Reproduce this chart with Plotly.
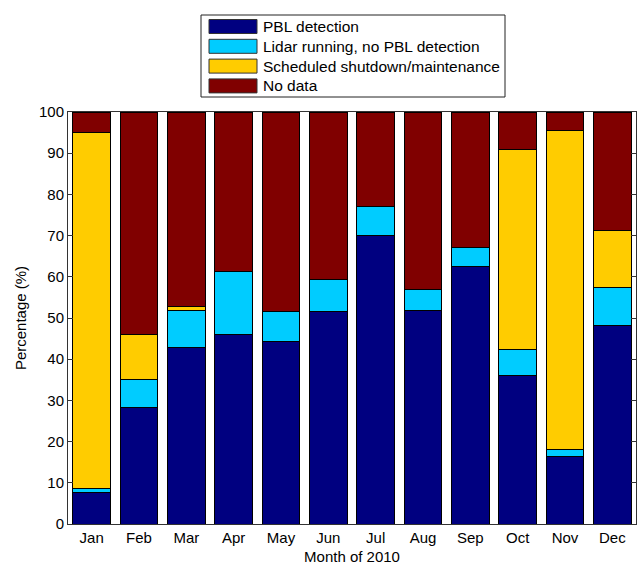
import plotly.graph_objects as go

months = ["Jan", "Feb", "Mar", "Apr", "May", "Jun", "Jul", "Aug", "Sep", "Oct", "Nov", "Dec"]
pbl_detection = [7.7, 28.2, 42.9, 45.9, 44.2, 51.7, 70.1, 51.8, 62.6, 36.1, 16.4, 48.2]
lidar_no_pbl = [1.0, 6.8, 8.9, 15.3, 7.3, 7.6, 6.9, 5.1, 4.4, 6.2, 1.8, 9.2]
shutdown = [86.3, 11.1, 1.1, 0.0, 0.0, 0.0, 0.0, 0.0, 0.0, 48.5, 77.2, 13.9]
no_data = [5.0, 53.9, 47.1, 38.8, 48.5, 40.7, 23.0, 43.1, 33.0, 9.2, 4.6, 28.7]

series_names = ["PBL detection", "Lidar running, no PBL detection",
                "Scheduled shutdown/maintenance", "No data"]
series_values = [pbl_detection, lidar_no_pbl, shutdown, no_data]
series_colors = ["#000080", "#00CCFF", "#FFCC00", "#800000"]

FONT = "Liberation Sans, Arial, Helvetica, sans-serif"
FS = 15
W, H = 637, 566
ML, MR, MT, MB = 68, 1, 112, 42
PW, PH = W - ML - MR, H - MT - MB


def px_x(px):
    return (px - ML) / PW


def px_y(py):
    return (H - MB - py) / PH


fig = go.Figure()
for name, vals, col in zip(series_names, series_values, series_colors):
    fig.add_trace(go.Bar(
        x=months, y=vals, name=name, showlegend=False,
        marker=dict(color=col, line=dict(color="#000000", width=1)),
    ))

# Legend box (MATLAB style) drawn above the axes
shapes = [dict(type="rect", xref="paper", yref="paper",
               x0=px_x(201), x1=px_x(505), y0=px_y(97), y1=px_y(15),
               line=dict(color="#222222", width=1), fillcolor="white", layer="above")]
annotations = []
for i, (name, col) in enumerate(zip(series_names, series_colors)):
    cy = 26.5 + 19.8 * i
    shapes.append(dict(type="rect", xref="paper", yref="paper",
                       x0=px_x(209), x1=px_x(257), y0=px_y(cy + 7), y1=px_y(cy - 7),
                       line=dict(color="#333333", width=1), fillcolor=col, layer="above"))
    annotations.append(dict(text=name, xref="paper", yref="paper",
                            x=px_x(261), y=px_y(cy), xanchor="left", yanchor="middle",
                            showarrow=False, font=dict(family=FONT, size=15.5, color="#000000")))

fig.update_layout(
    barmode="stack",
    bargap=0.2,
    width=W, height=H,
    margin=dict(l=ML, r=MR, t=MT, b=MB, autoexpand=False),
    paper_bgcolor="white",
    plot_bgcolor="white",
    font=dict(family=FONT, size=FS, color="#000000"),
    showlegend=False,
    shapes=shapes,
    annotations=annotations,
    xaxis=dict(
        range=[-0.5, 11.5], showline=True, linecolor="#333333", linewidth=1,
        mirror=True, ticks="", showgrid=False, zeroline=False, automargin=False,
        title=dict(text="Month of 2010", standoff=6, font=dict(size=FS)),
        tickfont=dict(size=FS),
    ),
    yaxis=dict(
        range=[0, 100], dtick=10, tick0=0, showline=True, linecolor="#333333",
        linewidth=1, mirror="ticks", ticks="inside", ticklen=5, tickcolor="#333333",
        showgrid=False, zeroline=False, automargin=False,
        title=dict(text="Percentage (%)", standoff=8, font=dict(size=FS)),
        tickfont=dict(size=FS),
    ),
)

fig.write_html("out.html", config={"displayModeBar": False},
               post_script="document.body.style.margin='0px';")
